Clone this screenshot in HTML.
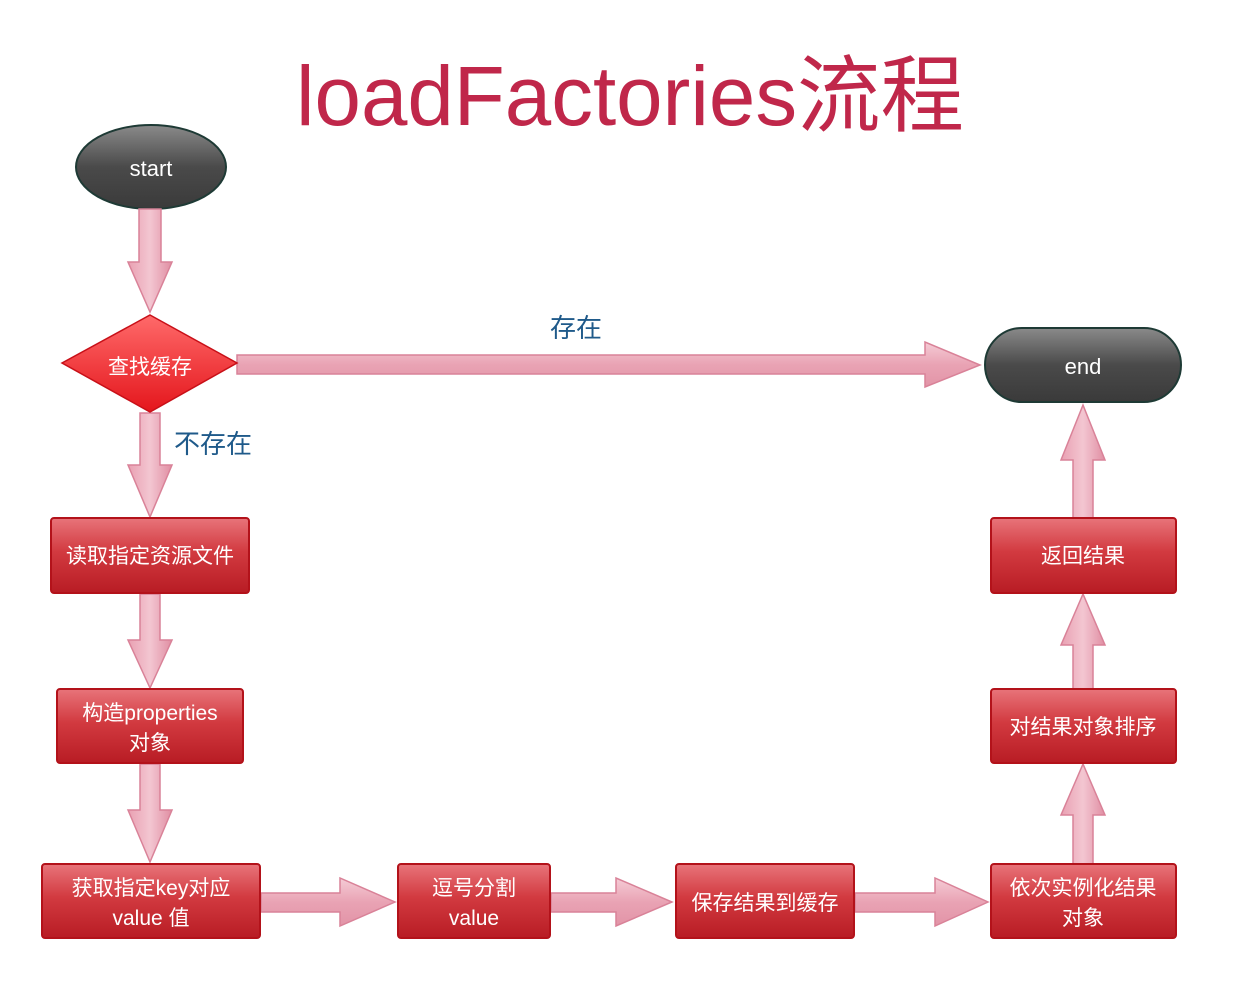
<!DOCTYPE html>
<html><head><meta charset="utf-8"><style>
html,body{margin:0;padding:0;background:#fff;}
svg{display:block;}
text{font-family:"Liberation Sans","Noto Sans CJK SC",sans-serif;}
</style></head><body>
<svg width="1245" height="986" viewBox="0 0 1245 986" xmlns="http://www.w3.org/2000/svg">
<defs>
<linearGradient id="red" x1="0" y1="0" x2="0" y2="1">
<stop offset="0" stop-color="#e8747a"/><stop offset="0.45" stop-color="#d23a40"/><stop offset="1" stop-color="#b81c24"/>
</linearGradient>
<linearGradient id="redh" x1="0" y1="0" x2="1" y2="0">
<stop offset="0" stop-color="#ffffff" stop-opacity="0.15"/><stop offset="0.6" stop-color="#ffffff" stop-opacity="0"/><stop offset="1" stop-color="#900" stop-opacity="0.15"/>
</linearGradient>
<linearGradient id="dia" x1="0" y1="0" x2="0" y2="1">
<stop offset="0" stop-color="#ff6a6a"/><stop offset="1" stop-color="#e4161c"/>
</linearGradient>
<linearGradient id="dark" x1="0" y1="0" x2="0" y2="1">
<stop offset="0" stop-color="#8a8a8a"/><stop offset="0.5" stop-color="#4a4a4a"/><stop offset="1" stop-color="#3a3a3a"/>
</linearGradient>
<linearGradient id="pinkv" x1="0" y1="0" x2="1" y2="0">
<stop offset="0" stop-color="#e9a0b2"/><stop offset="0.5" stop-color="#f3c6d1"/><stop offset="1" stop-color="#e08ea3"/>
</linearGradient>
<linearGradient id="pinkh" x1="0" y1="0" x2="0" y2="1">
<stop offset="0" stop-color="#f5ccd6"/><stop offset="0.5" stop-color="#e9a3b4"/><stop offset="1" stop-color="#e294a7"/>
</linearGradient>
</defs>

<text x="296" y="125" font-size="84" fill="#c0274a" textLength="668" lengthAdjust="spacingAndGlyphs">loadFactories流程</text>

<!-- start -->
<ellipse cx="151" cy="167" rx="75" ry="42" fill="url(#dark)" stroke="#1e3a35" stroke-width="2"/>
<text x="151" y="176" font-size="22" fill="#fff" text-anchor="middle">start</text>

<!-- vertical down arrows -->
<g stroke="#d98298" stroke-width="1.5" fill="url(#pinkv)">
<polygon points="139,209 161,209 161,262 172,262 150,312 128,262 139,262"/>
<polygon points="140,413 160,413 160,465 172,465 150,517 128,465 140,465"/>
<polygon points="140,594 160,594 160,640 172,640 150,688 128,640 140,640"/>
<polygon points="140,764 160,764 160,810 172,810 150,862 128,810 140,810"/>
<!-- up arrows -->
<polygon points="1073,864 1093,864 1093,815 1105,815 1083,764 1061,815 1073,815"/>
<polygon points="1073,689 1093,689 1093,645 1105,645 1083,594 1061,645 1073,645"/>
<polygon points="1073,518 1093,518 1093,460 1105,460 1083,405 1061,460 1073,460"/>
</g>
<g stroke="#d98298" stroke-width="1.5" fill="url(#pinkh)">
<polygon points="237,355 925,355 925,342 980,365 925,387 925,374 237,374"/>
<polygon points="261,893 340,893 340,878 395,902 340,926 340,912 261,912"/>
<polygon points="551,893 616,893 616,878 672,902 616,926 616,912 551,912"/>
<polygon points="855,893 935,893 935,878 988,902 935,926 935,912 855,912"/>
</g>

<!-- diamond -->
<polygon points="150,315 237,363 150,412 62,363" fill="url(#dia)" stroke="#c81018" stroke-width="1.5"/>
<text x="150" y="374" font-size="21" fill="#fff" text-anchor="middle">查找缓存</text>

<!-- end -->
<rect x="985" y="328" width="196" height="74" rx="37" fill="url(#dark)" stroke="#1e3a35" stroke-width="2"/>
<text x="1083" y="374" font-size="22" fill="#fff" text-anchor="middle">end</text>

<text x="576" y="337" font-size="26" fill="#1f5a8a" text-anchor="middle">存在</text>
<text x="213" y="453" font-size="26" fill="#1f5a8a" text-anchor="middle">不存在</text>

<!-- boxes -->
<g stroke="#b3121a" stroke-width="2">
<rect x="51" y="518" width="198" height="75" rx="3" fill="url(#red)"/>
<rect x="57" y="689" width="186" height="74" rx="3" fill="url(#red)"/>
<rect x="42" y="864" width="218" height="74" rx="3" fill="url(#red)"/>
<rect x="398" y="864" width="152" height="74" rx="3" fill="url(#red)"/>
<rect x="676" y="864" width="178" height="74" rx="3" fill="url(#red)"/>
<rect x="991" y="864" width="185" height="74" rx="3" fill="url(#red)"/>
<rect x="991" y="689" width="185" height="74" rx="3" fill="url(#red)"/>
<rect x="991" y="518" width="185" height="75" rx="3" fill="url(#red)"/>
</g>
<g font-size="21" fill="#fff" text-anchor="middle">
<text x="150" y="563">读取指定资源文件</text>
<text x="150" y="720">构造properties</text>
<text x="150" y="750">对象</text>
<text x="151" y="895">获取指定key对应</text>
<text x="151" y="925">value 值</text>
<text x="474" y="895">逗号分割</text>
<text x="474" y="925">value</text>
<text x="765" y="910">保存结果到缓存</text>
<text x="1083" y="895">依次实例化结果</text>
<text x="1083" y="925">对象</text>
<text x="1083" y="734">对结果对象排序</text>
<text x="1083" y="563">返回结果</text>
</g>
</svg>
</body></html>
